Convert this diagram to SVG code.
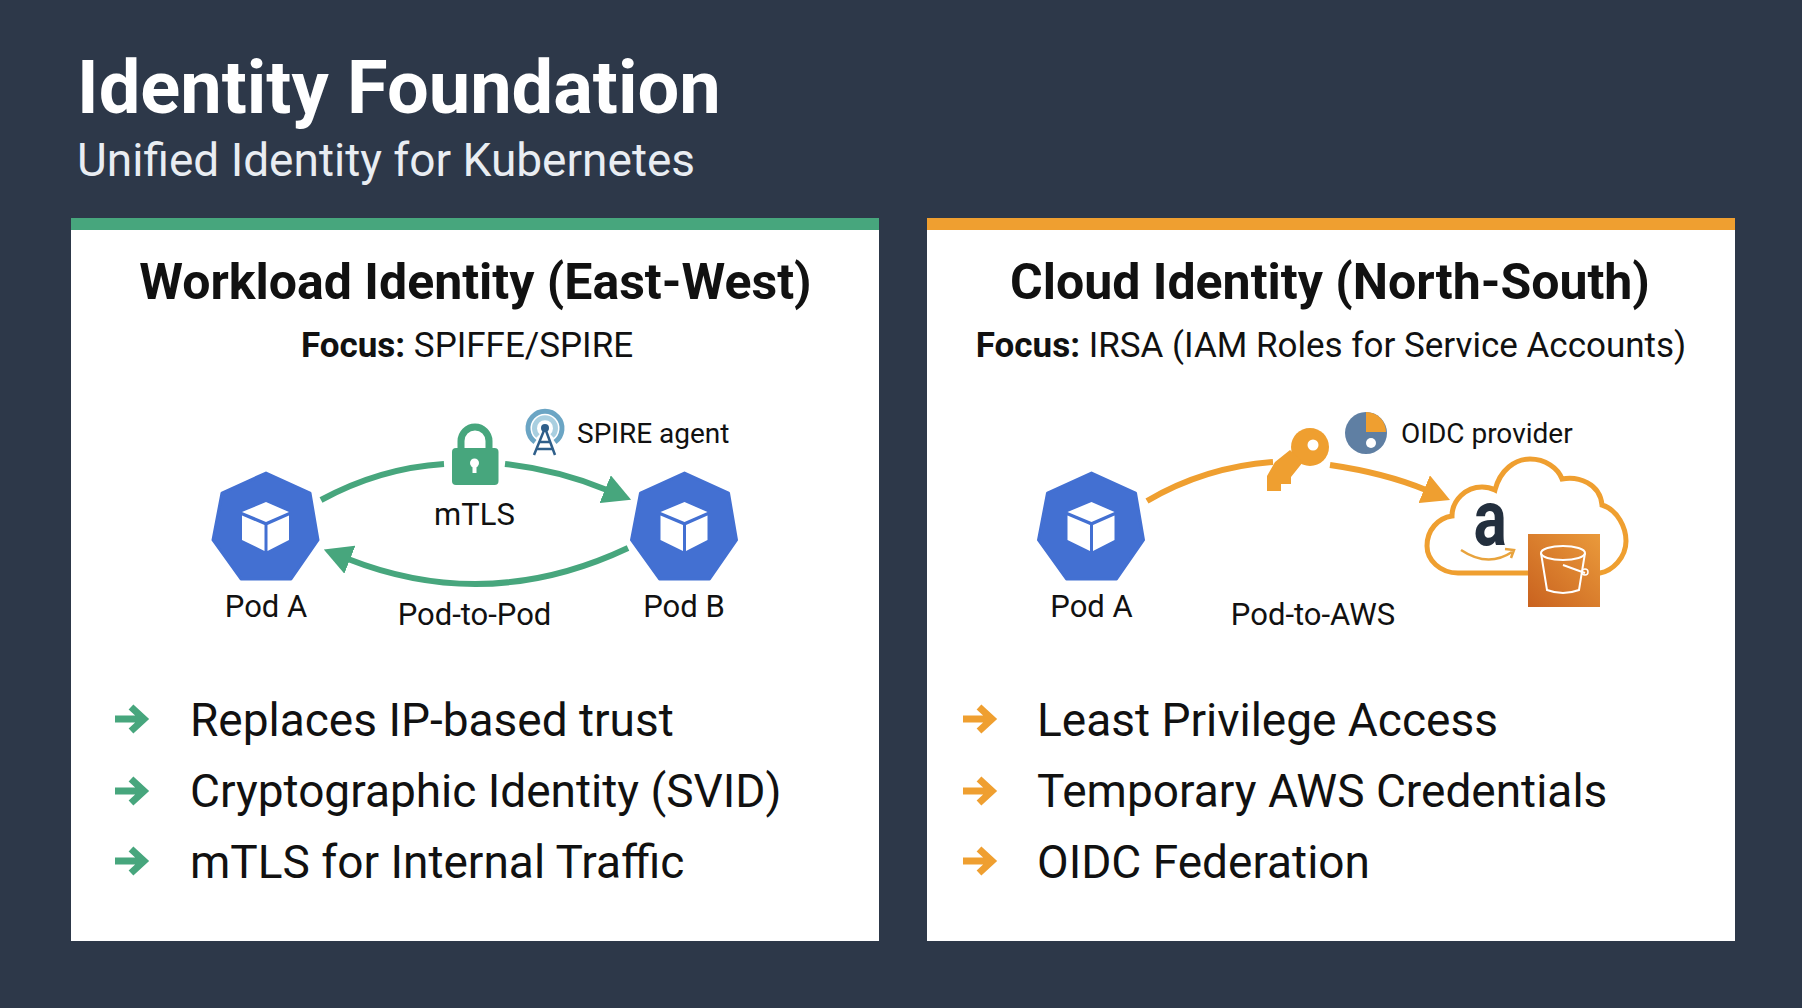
<svg xmlns="http://www.w3.org/2000/svg" xmlns:xlink="http://www.w3.org/1999/xlink" width="1802" height="1008" viewBox="0 0 1802 1008">
<style>
text{font-family:Roboto,"Liberation Sans",sans-serif;fill:#111}
.h{font-size:50px;font-weight:700;text-anchor:middle}
.f{font-size:35px;text-anchor:middle}
.f tspan{font-weight:700}
.b{font-size:46px}
.l{font-size:31px;text-anchor:middle}
.s{font-size:28px}
.g{stroke:#47a67d;stroke-width:6;fill:none}
.o{stroke:#ef9f30;stroke-width:6;fill:none}
.ag{stroke:#47a67d;stroke-width:7;fill:none}
.ao{stroke:#ef9f30;stroke-width:7;fill:none}
</style>
<defs>
<marker id="mg" markerUnits="userSpaceOnUse" markerWidth="28" markerHeight="30" refX="2" refY="15" orient="auto"><path d="M0 0L28 15L0 30Z" fill="#47a67d"/></marker>
<marker id="mo" markerUnits="userSpaceOnUse" markerWidth="28" markerHeight="30" refX="2" refY="15" orient="auto"><path d="M0 0L28 15L0 30Z" fill="#ef9f30"/></marker>
<g id="pod">
<path d="M266 473L310 493L318 540L291 579L241 579L213 540L222 493Z" fill="#4370d2" stroke="#4370d2" stroke-width="3" stroke-linejoin="round"/>
<path d="M266 502L289 512L266 522L242 512Z M242 515.5L264.500 525L264.500 551L242 540Z M289 515.500L267.500 525L267.500 551L289 540Z" fill="#fff"/>
</g>
<path id="arr" d="M0 0H26M16 -12L29 0L16 12" fill="none" stroke-width="7"/>
</defs>
<rect width="1802" height="1008" fill="#2d3849"/>
<g id="header">
<text x="77" y="113" font-size="74" font-weight="700" style="fill:#fff">Identity Foundation</text>
<text x="77" y="176" font-size="46" style="fill:#e9edf2">Unified Identity for Kubernetes</text>
</g>
<g id="panel-workload">
<rect x="71" y="218" width="808" height="723" fill="#fff"/>
<rect x="71" y="218" width="808" height="12" fill="#47a67d"/>
<text class="h" x="475.500" y="299">Workload Identity (East-West)</text>
<text class="f" x="467" y="357"><tspan>Focus:</tspan> SPIFFE/SPIRE</text>
</g>
<g id="panel-cloud">
<rect x="927" y="218" width="808" height="723" fill="#fff"/>
<rect x="927" y="218" width="808" height="12" fill="#ef9f30"/>
<text class="h" x="1330" y="299">Cloud Identity (North-South)</text>
<text class="f" x="1331" y="357"><tspan>Focus:</tspan> IRSA (IAM Roles for Service Accounts)</text>
</g>
<g id="connectors">
<path class="g" d="M321 500Q380 468 444 464"/>
<path class="g" d="M505 464Q558 470 607 490" marker-end="url(#mg)"/>
<path class="g" d="M628 548Q488 614 348 559" marker-end="url(#mg)"/>
<path class="o" d="M1147 501Q1205 467 1273 462"/>
<path class="o" d="M1330 465Q1385 473 1426 490" marker-end="url(#mo)"/>
</g>
<g id="pod-a-east-west"><use href="#pod"/><text class="l" x="266" y="617">Pod A</text></g>
<g id="pod-b"><use href="#pod" x="418.500"/><text class="l" x="684" y="617">Pod B</text></g>
<g id="mtls">
<rect x="452" y="448" width="46.500" height="37" rx="4" fill="#47a67d"/>
<path d="M461 449V441a14 14 0 0 1 28 0V449" fill="none" stroke="#47a67d" stroke-width="7"/>
<circle cx="474.500" cy="463" r="4.500" fill="#fff"/><rect x="472.500" y="464" width="4" height="9" fill="#fff"/>
<text x="474.500" y="525" class="l">mTLS</text>
</g>
<g id="spire-agent">
<path d="M535 442A17 17 0 1 1 555 442" fill="none" stroke="#6ba5c4" stroke-width="5"/>
<path d="M538 436A10.500 10.500 0 1 1 552 436" fill="none" stroke="#a9cfe0" stroke-width="5"/>
<path d="M545 428L534 455M545 428L555 455M540 442H550M537 449H553" fill="none" stroke="#2f5f8a" stroke-width="2.500"/>
<circle cx="545" cy="428" r="4" fill="#2f5f8a"/>
<text class="s" x="577" y="443">SPIRE agent</text>
</g>
<text class="l" x="474.500" y="625">Pod-to-Pod</text>
<g id="pod-a-north-south"><use href="#pod" x="825.500"/><text class="l" x="1091.500" y="617">Pod A</text></g>
<g id="key">
<circle cx="1310" cy="447" r="19" fill="#ef9f30"/>
<path d="M1275 462L1267 476V491H1281V484H1291V477L1303 462L1290 450Z" fill="#ef9f30"/>
<circle cx="1313" cy="445" r="5.500" fill="#fff"/>
</g>
<g id="oidc-provider">
<circle cx="1366" cy="433" r="21" fill="#5f7fa3"/>
<path d="M1366 432V412A20 20 0 0 1 1386 432Z" fill="#ef9f30"/>
<circle cx="1371" cy="443" r="5" fill="#fff"/>
<text class="s" x="1401" y="443">OIDC provider</text>
</g>
<g id="aws-cloud">
<path d="M1458 573C1440 573 1427 560 1427 546C1427 530 1438 518 1452 516C1452 500 1466 487 1482 487C1487 487 1491 488 1495 490C1500 470 1515 459 1530 459C1545 459 1558 468 1562 479C1578 476 1600 483 1602 505C1618 510 1626 528 1626 541C1626 558 1612 571 1600 573Z" fill="#fff" stroke="#ef9f30" stroke-width="5"/>
<text x="1473" y="545" font-size="78" font-weight="700" transform="translate(295 0) scale(.8 1)" style="fill:#232f3e">a</text>
<path d="M1461 550Q1488 568 1512 552M1505 549L1514 550L1511 558" fill="none" stroke="#e8a33d" stroke-width="2.500"/>
<defs><linearGradient id="bk" x1="0" y1="1" x2="1" y2="0"><stop offset="0" stop-color="#c9621f"/><stop offset="1" stop-color="#ea9a3b"/></linearGradient></defs>
<rect x="1528" y="534" width="72" height="73" fill="url(#bk)"/>
<ellipse cx="1563" cy="553" rx="22" ry="7" fill="none" stroke="#fff" stroke-width="2"/>
<path d="M1541 553L1547 590Q1563 596 1579 590L1585 553M1563 565L1585 573" fill="none" stroke="#fff" stroke-width="2"/>
<ellipse cx="1585" cy="572" rx="3" ry="3" fill="none" stroke="#fff" stroke-width="1.500"/>
</g>
<text class="l" x="1313" y="625">Pod-to-AWS</text>
<g id="list-workload">
<use href="#arr" x="115" y="719" stroke="#47a67d"/><text class="b" x="190" y="736">Replaces IP-based trust</text>
<use href="#arr" x="115" y="791" stroke="#47a67d"/><text class="b" x="190" y="807">Cryptographic Identity (SVID)</text>
<use href="#arr" x="115" y="861" stroke="#47a67d"/><text class="b" x="190" y="878">mTLS for Internal Traffic</text>
</g>
<g id="list-cloud">
<use href="#arr" x="963" y="719" stroke="#ef9f30"/><text class="b" x="1037" y="736">Least Privilege Access</text>
<use href="#arr" x="963" y="791" stroke="#ef9f30"/><text class="b" x="1037" y="807">Temporary AWS Credentials</text>
<use href="#arr" x="963" y="861" stroke="#ef9f30"/><text class="b" x="1037" y="878">OIDC Federation</text>
</g>
</svg>
